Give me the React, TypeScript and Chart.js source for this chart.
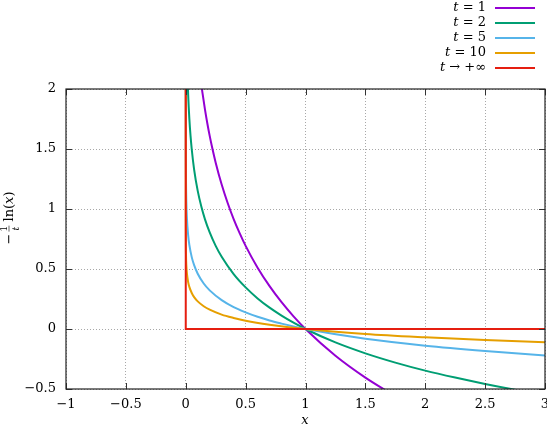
import React, { useEffect, useRef } from "react";
import { Chart, registerables } from "chart.js";
Chart.register(...registerables);

const xTickValues = [-1, -0.5, 0, 0.5, 1, 1.5, 2, 2.5, 3];
const yTickValues = [-0.5, 0, 0.5, 1, 1.5, 2];

const t1X = [0.1, 0.13, 0.14, 0.16, 0.18, 0.2, 0.22, 0.25, 0.3, 0.35, 0.4, 0.45, 0.5, 0.6, 0.7, 0.8, 0.9, 1, 1.25, 1.5, 1.75];
const t1Y = [2.303, 2.040, 1.966, 1.833, 1.715, 1.609, 1.514, 1.386, 1.204, 1.050, 0.916, 0.799, 0.693, 0.511, 0.357, 0.223, 0.105, 0, -0.223, -0.405, -0.560];

const t2X = [0.01, 0.015, 0.02, 0.03, 0.04, 0.05, 0.07, 0.1, 0.13, 0.16, 0.2, 0.25, 0.3, 0.4, 0.5, 0.6, 0.7, 0.8, 0.9, 1, 1.25, 1.5, 1.75, 2, 2.25, 2.5, 2.75, 3];
const t2Y = [2.303, 2.100, 1.956, 1.753, 1.609, 1.498, 1.329, 1.151, 1.020, 0.916, 0.805, 0.693, 0.602, 0.458, 0.347, 0.255, 0.178, 0.112, 0.053, 0, -0.112, -0.203, -0.280, -0.347, -0.405, -0.458, -0.506, -0.549];

const t5X = [0.00001, 0.0001, 0.0005, 0.001, 0.002, 0.005, 0.01, 0.02, 0.03, 0.05, 0.07, 0.1, 0.15, 0.2, 0.3, 0.4, 0.5, 0.6, 0.7, 0.8, 0.9, 1, 1.5, 2, 2.5, 3];
const t5Y = [2.303, 1.842, 1.520, 1.382, 1.243, 1.060, 0.921, 0.782, 0.701, 0.599, 0.532, 0.461, 0.379, 0.322, 0.241, 0.183, 0.139, 0.102, 0.071, 0.045, 0.021, 0, -0.081, -0.139, -0.183, -0.220];

const t10X = [0.000000001, 0.00001, 0.0001, 0.001, 0.002, 0.005, 0.01, 0.02, 0.03, 0.05, 0.07, 0.1, 0.15, 0.2, 0.3, 0.4, 0.5, 0.7, 1, 1.5, 2, 2.5, 3];
const t10Y = [2.072, 1.151, 0.921, 0.691, 0.622, 0.530, 0.461, 0.391, 0.351, 0.300, 0.266, 0.230, 0.190, 0.161, 0.120, 0.092, 0.069, 0.036, 0, -0.041, -0.069, -0.092, -0.110];

const tInfX = [0, 0, 3];
const tInfY = [2.2, 0, 0];

const seriesColors = ["#9400d3", "#009e73", "#56b4e9", "#e69f00", "#e51e10"];

const SERIF = "DejaVu Serif";
const FS = 13;

type Seg = { text: string; italic?: boolean; size?: number };

function setFont(ctx: CanvasRenderingContext2D, italic: boolean, size: number) {
  ctx.font = `${italic ? "italic " : ""}${size}px "${SERIF}"`;
}

function drawSegs(ctx: CanvasRenderingContext2D, segs: Seg[], xRight: number, y: number, size: number) {
  let total = 0;
  const widths = segs.map((s) => {
    setFont(ctx, !!s.italic, s.size || size);
    const w = ctx.measureText(s.text).width;
    total += w;
    return w;
  });
  let x = xRight - total;
  ctx.textAlign = "left";
  segs.forEach((s, i) => {
    setFont(ctx, !!s.italic, s.size || size);
    ctx.fillText(s.text, x, y);
    x += widths[i];
  });
}

const legendItems: Seg[][] = [
  [{ text: "t", italic: true }, { text: " = 1" }],
  [{ text: "t", italic: true }, { text: " = 2" }],
  [{ text: "t", italic: true }, { text: " = 5" }],
  [{ text: "t", italic: true }, { text: " = 10" }],
  [{ text: "t", italic: true }, { text: " → +∞" }],
];

const decorPlugin = {
  id: "decor",
  afterDraw(chart: any) {
    const ctx: CanvasRenderingContext2D = chart.ctx;
    const { left, right, top, bottom } = chart.chartArea;
    const xs = chart.scales.x;
    const ys = chart.scales.y;
    ctx.save();
    // inward ticks
    ctx.strokeStyle = "#333";
    ctx.lineWidth = 1;
    ctx.beginPath();
    xTickValues.forEach((v) => {
      const px = Math.round(xs.getPixelForValue(v)) + 0.5;
      ctx.moveTo(px, bottom);
      ctx.lineTo(px, bottom - 6);
      ctx.moveTo(px, top);
      ctx.lineTo(px, top + 6);
    });
    yTickValues.forEach((v) => {
      const py = Math.round(ys.getPixelForValue(v)) + 0.5;
      ctx.moveTo(left, py);
      ctx.lineTo(left + 6, py);
      ctx.moveTo(right, py);
      ctx.lineTo(right - 6, py);
    });
    ctx.stroke();
    // frame
    ctx.strokeStyle = "#222";
    ctx.lineWidth = 1.2;
    ctx.strokeRect(left, top, right - left, bottom - top);

    // legend
    ctx.fillStyle = "#000";
    ctx.textBaseline = "middle";
    legendItems.forEach((segs, i) => {
      const y = 8 + i * 15;
      drawSegs(ctx, segs, 486, y, FS);
      ctx.strokeStyle = seriesColors[i];
      ctx.lineWidth = 2;
      ctx.beginPath();
      ctx.moveTo(495, y);
      ctx.lineTo(535, y);
      ctx.stroke();
    });

    // x title
    ctx.fillStyle = "#000";
    ctx.textBaseline = "alphabetic";
    ctx.textAlign = "center";
    setFont(ctx, true, FS);
    ctx.fillText("x", 305, 424);

    // y title (rotated)
    ctx.save();
    ctx.translate(13, 218);
    ctx.rotate(-Math.PI / 2);
    ctx.textAlign = "left";
    ctx.textBaseline = "alphabetic";
    setFont(ctx, false, FS);
    const wMinus = ctx.measureText("−").width;
    const wFrac = 6;
    const wLn = ctx.measureText(" ln(").width;
    setFont(ctx, true, FS);
    const wX = ctx.measureText("x").width;
    setFont(ctx, false, FS);
    const wP = ctx.measureText(")").width;
    const total = wMinus + 2 + wFrac + wLn + wX + wP;
    let cx = -total / 2;
    ctx.fillText("−", cx, 0);
    cx += wMinus + 2;
    ctx.textAlign = "center";
    setFont(ctx, false, 9);
    ctx.fillText("1", cx + wFrac / 2, -6);
    setFont(ctx, true, 9);
    ctx.fillText("t", cx + wFrac / 2, 6);
    ctx.lineWidth = 0.6;
    ctx.strokeStyle = "#000";
    ctx.beginPath();
    ctx.moveTo(cx, -4);
    ctx.lineTo(cx + wFrac, -4);
    ctx.stroke();
    ctx.textAlign = "left";
    cx += wFrac;
    setFont(ctx, false, FS);
    ctx.fillText(" ln(", cx, 0);
    cx += wLn;
    setFont(ctx, true, FS);
    ctx.fillText("x", cx, 0);
    cx += wX;
    setFont(ctx, false, FS);
    ctx.fillText(")", cx, 0);
    ctx.restore();

    ctx.restore();
  },
};

function pts(xs: number[], ys: number[]) {
  return xs.map((x, i) => ({ x, y: ys[i] }));
}

function fmt(v: number) {
  const s = String(v);
  return s.startsWith("-") ? "−" + s.slice(1) : s;
}

export default function App() {
  const ref = useRef<HTMLCanvasElement | null>(null);
  useEffect(() => {
    if (!ref.current) return;
    const curve = (label: string, xs: number[], ys: number[], color: string, order: number, smooth: boolean) => ({
      label,
      data: pts(xs, ys),
      borderColor: color,
      backgroundColor: color,
      borderWidth: 2,
      pointRadius: 0,
      fill: false,
      order,
      cubicInterpolationMode: smooth ? ("monotone" as const) : ("default" as const),
      tension: 0,
    });
    const chart = new Chart(ref.current, {
      type: "line",
      data: {
        datasets: [
          curve("t = 1", t1X, t1Y, seriesColors[0], 4, true),
          curve("t = 2", t2X, t2Y, seriesColors[1], 3, true),
          curve("t = 5", t5X, t5Y, seriesColors[2], 2, true),
          curve("t = 10", t10X, t10Y, seriesColors[3], 1, true),
          curve("t → +∞", tInfX, tInfY, seriesColors[4], 0, false),
        ],
      },
      options: {
        animation: false,
        responsive: true,
        maintainAspectRatio: false,
        layout: { padding: { top: 89, right: 2, left: 0, bottom: 0 } },
        plugins: { legend: { display: false }, tooltip: { enabled: false } },
        scales: {
          x: {
            type: "linear",
            min: -1,
            max: 3,
            afterBuildTicks: (s: any) => {
              s.ticks = xTickValues.map((v) => ({ value: v }));
            },
            afterFit: (s: any) => {
              s.height = 46;
              s.paddingLeft = 0;
              s.paddingRight = 0;
            },
            grid: { color: "#a8a8a8", lineWidth: 1, drawTicks: false },
            border: { display: false, dash: [1, 2] },
            ticks: {
              padding: 8,
              color: "#000",
              font: { family: SERIF, size: FS },
              maxRotation: 0,
              callback: (v: any) => fmt(Number(v)),
            },
          },
          y: {
            type: "linear",
            min: -0.5,
            max: 2,
            afterBuildTicks: (s: any) => {
              s.ticks = yTickValues.map((v) => ({ value: v }));
            },
            afterFit: (s: any) => {
              s.width = 66;
            },
            grid: { color: "#a8a8a8", lineWidth: 1, drawTicks: false },
            border: { display: false, dash: [1, 2] },
            ticks: {
              padding: 10,
              color: "#000",
              font: { family: SERIF, size: FS },
              callback: (v: any) => fmt(Number(v)),
            },
          },
        },
      },
      plugins: [decorPlugin],
    } as any);
    return () => chart.destroy();
  }, []);
  return (
    <div style={{ position: "fixed", left: 0, top: 0, width: 547, height: 435, background: "#fff" }}>
      <canvas ref={ref} />
    </div>
  );
}
